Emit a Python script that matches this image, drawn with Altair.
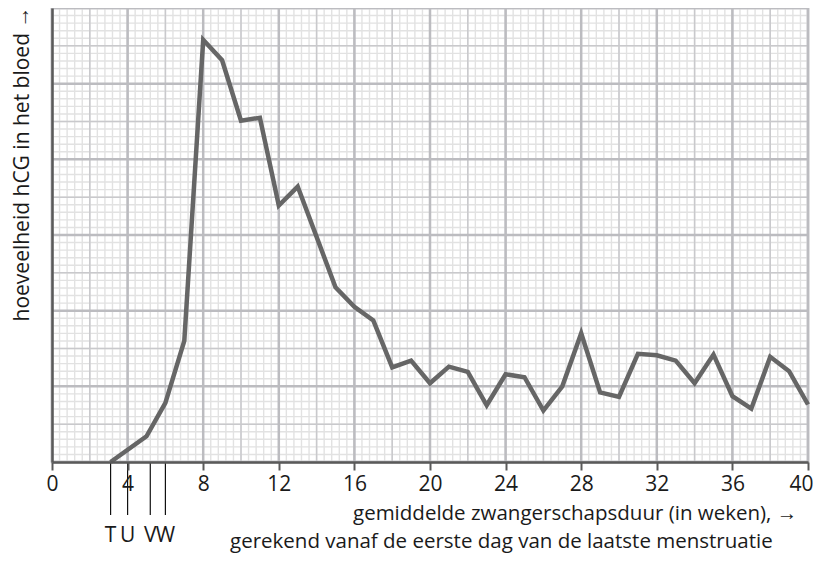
import altair as alt
import numpy as np
import pandas as pd

# --- data ---
weeks = [3.1, 5, 6, 7, 8, 9, 10, 11, 12, 13, 15, 16, 17, 18, 19, 20, 21, 22, 23,
         24, 25, 26, 27, 28, 29, 30, 31, 32, 33, 34, 35, 36, 37, 38, 39, 40]
hcg = [0, 3.4, 7.8, 16.0, 55.8, 53.1, 45.1, 45.5, 33.9, 36.4, 23.1, 20.5, 18.7,
       12.5, 13.4, 10.4, 12.6, 11.9, 7.5, 11.6, 11.2, 6.8, 10.0, 17.0, 9.2, 8.6,
       14.3, 14.1, 13.4, 10.4, 14.2, 8.7, 7.05, 13.9, 12.0, 7.6]
marker_labels = ["T", "U", "V", "W"]
marker_weeks = [3.1, 4.0, 5.2, 6.0]
x_ticks = [0, 4, 8, 12, 16, 20, 24, 28, 32, 36, 40]

y_title = "hoeveelheid hCG in het bloed \u2192"
x_title_1 = "gemiddelde zwangerschapsduur (in weken),  \u2192"
x_title_2 = "gerekend vanaf de eerste dag van de laatste menstruatie"

FONT = "Open Sans"
FS = 21
FS_T = 20.5
W, H = 756, 454

xs = alt.Scale(domain=[0, 40], nice=False, zero=False)
ys = alt.Scale(domain=[0, 60], nice=False, zero=False)

xa = alt.Axis(values=x_ticks, title=None, grid=False, domainColor="#5a5a5a",
              domainWidth=2.5, tickColor="#5a5a5a", tickWidth=2, tickSize=8,
              labelFont=FONT, labelFontSize=FS, labelColor="#1a1a1a",
              labelPadding=3, labelFlush=False, zindex=1,
              labelAlign={"condition": {"test": "datum.value == 40", "value": "right"},
                          "value": "center"},
              labelOffset={"condition": {"test": "datum.value == 40", "value": 5},
                           "value": 0})
ya = alt.Axis(title=None, labels=False, ticks=False, grid=False,
              domainColor="#5a5a5a", domainWidth=2.5, zindex=1)

# grid positions (paper grid)
minor_x = [round(v, 2) for v in np.arange(0, 40.001, 0.4)]
mid_x = list(range(0, 41, 2))
major_x = list(range(0, 41, 4))
minor_y = list(range(0, 61, 1))
mid_y = list(range(0, 61, 5))
major_y = list(range(0, 61, 10))


def vgrid(vals, color, width):
    return alt.Chart(pd.DataFrame({"g": vals})).mark_rule(
        color=color, strokeWidth=width
    ).encode(x=alt.X("g:Q", scale=xs, axis=xa))


def hgrid(vals, color, width):
    return alt.Chart(pd.DataFrame({"g": vals})).mark_rule(
        color=color, strokeWidth=width
    ).encode(y=alt.Y("g:Q", scale=ys, axis=ya))


grid = alt.layer(
    vgrid(minor_x, "#e2e2e2", 1.4), hgrid(minor_y, "#e2e2e2", 1.4),
    vgrid(mid_x, "#c9c9cc", 1.5), hgrid(mid_y, "#c9c9cc", 1.5),
    vgrid(major_x, "#bcbcc0", 2.5), hgrid(major_y, "#bcbcc0", 2.5),
)

df = pd.DataFrame({"week": weeks, "hcg": hcg})
line = alt.Chart(df).mark_line(color="#666666", strokeWidth=4.5, strokeJoin="miter").encode(
    x=alt.X("week:Q", scale=xs, axis=xa),
    y=alt.Y("hcg:Q", scale=ys, axis=ya),
)

mdf = pd.DataFrame({"week": marker_weeks, "lab": marker_labels})
mrules = alt.Chart(mdf).mark_rule(color="#111111", strokeWidth=1.2).encode(
    x=alt.X("week:Q", scale=xs, axis=xa), y=alt.value(H), y2=alt.value(H + 53)
)
mtext = alt.Chart(mdf).mark_text(font=FONT, fontSize=FS, color="#1a1a1a",
                                 baseline="alphabetic", align="center").encode(
    x=alt.X("week:Q", scale=xs, axis=xa), y=alt.value(H + 80), text="lab:N"
)

tdf = pd.DataFrame({"t1": [x_title_1], "t2": [x_title_2], "ty": [y_title]})
xt1 = alt.Chart(tdf).mark_text(font=FONT, fontSize=FS_T, color="#1a1a1a", align="left",
                               baseline="alphabetic").encode(
    x=alt.value(301), y=alt.value(512), text="t1:N")
xt2 = alt.Chart(tdf).mark_text(font=FONT, fontSize=FS_T, color="#1a1a1a", align="left",
                               baseline="alphabetic").encode(
    x=alt.value(178), y=alt.value(540), text="t2:N")
yt = alt.Chart(tdf).mark_text(font=FONT, fontSize=FS, color="#1a1a1a", align="center",
                              baseline="middle", angle=270).encode(
    x=alt.value(-29), y=alt.value(156), text="ty:N")

chart = alt.layer(grid, line, mrules, mtext, xt1, xt2, yt).properties(
    width=W, height=H,
    autosize=alt.AutoSizeParams(type="none"),
    padding={"left": 44, "top": 0, "right": 5, "bottom": 92},
).configure_view(stroke="#bcbcc0", strokeWidth=2.5)

chart.save("out.html", embed_options={"renderer": "svg", "actions": False})
